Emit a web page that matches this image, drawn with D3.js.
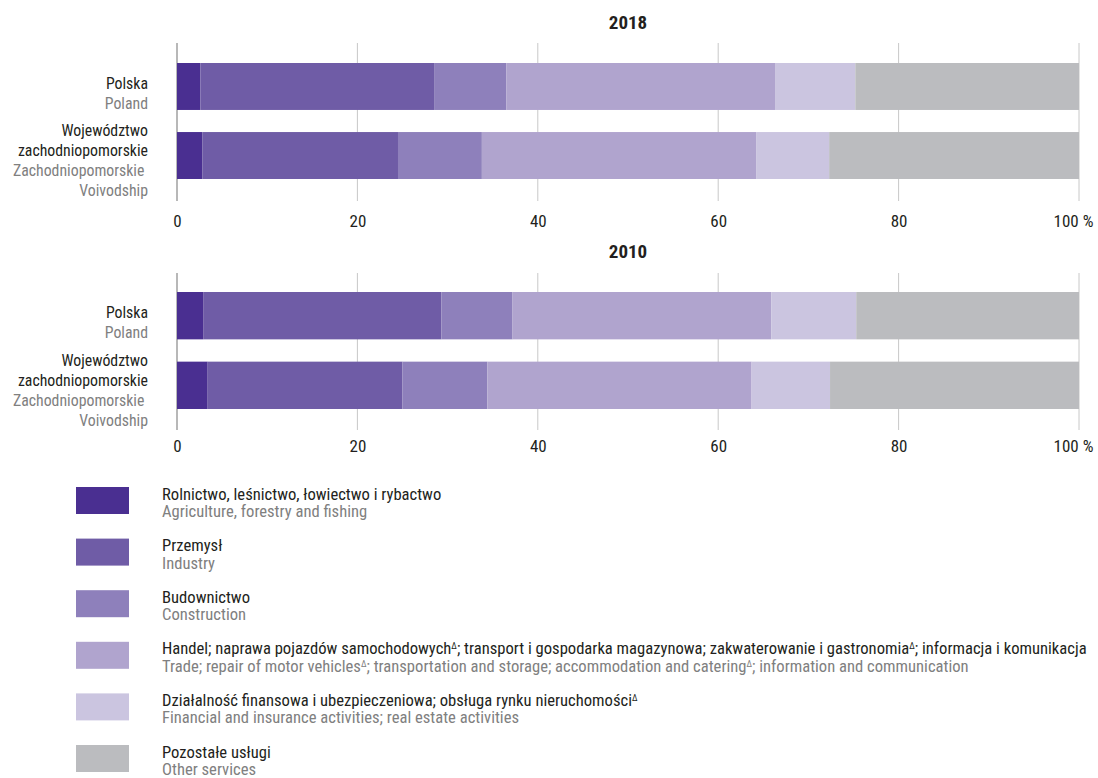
<!DOCTYPE html>
<html><head><meta charset="utf-8">
<script src="https://cdn.jsdelivr.net/npm/d3@7"></script>
<style>
  body{margin:0;background:#fff}
  text{font-family:'Roboto Condensed','Liberation Sans',sans-serif}
</style>
</head><body>
<svg id="s" width="1098" height="778"></svg>
<script>
// ---------- data ----------
const years = ["2018", "2010"];
const regions = ["Polska", "Województwo zachodniopomorskie"];
const regionLabelsPl = [["Polska"], ["Województwo", "zachodniopomorskie"]];
const regionLabelsEn = [["Poland"], ["Zachodniopomorskie ", "Voivodship"]];
const sectorsPl = [
  "Rolnictwo, leśnictwo, łowiectwo i rybactwo",
  "Przemysł",
  "Budownictwo",
  "Handel; naprawa pojazdów samochodowych^; transport i gospodarka magazynowa; zakwaterowanie i gastronomia^; informacja i komunikacja",
  "Działalność finansowa i ubezpieczeniowa; obsługa rynku nieruchomości^",
  "Pozostałe usługi"
];
const sectorsEn = [
  "Agriculture, forestry and fishing",
  "Industry",
  "Construction",
  "Trade; repair of motor vehicles^; transportation and storage; accommodation and catering^; information and communication",
  "Financial and insurance activities; real estate activities",
  "Other services"
];
const colors = ["#4a2f91", "#6f5ca6", "#8e80bb", "#b0a4ce", "#cbc5e0", "#bbbcbf"];
// shares (%) per sector, [Polska, zachodniopomorskie]
const values2018 = [
  [2.6, 2.8],
  [25.9, 21.7],
  [8.0, 9.3],
  [29.8, 30.4],
  [8.9, 8.1],
  [24.8, 27.7]
];
const values2010 = [
  [2.9, 3.4],
  [26.4, 21.6],
  [7.9, 9.4],
  [28.7, 29.3],
  [9.4, 8.7],
  [24.7, 27.6]
];
const tickValues = [0, 20, 40, 60, 80, 100];
const tickLabels = ["0", "20", "40", "60", "80", "100 %"];

// ---------- layout ----------
const svg = d3.select("#s");
const x = d3.scaleLinear().domain([0, 100]).range([177, 1079]);
const panels = [
  {year: years[0], values: values2018, top: 43, bars: [63, 179], bottom: 201, titleY: 29, tickY: 228},
  {year: years[1], values: values2010, top: 273, bars: [292, 409], bottom: 430, titleY: 258, tickY: 453}
];

panels.forEach(p => {
  const g = svg.append("g");
  const y = d3.scaleBand().domain(regions).range(p.bars).paddingInner(0.32).paddingOuter(0);

  // title
  g.append("text").attr("x", (x(0) + x(100)) / 2).attr("y", p.titleY)
    .attr("text-anchor", "middle").style("font-weight", "700").style("font-size", "19px")
    .attr("fill", "#231f20").text(p.year);

  // gridlines
  g.selectAll("line.grid").data(tickValues).join("line")
    .attr("class", "grid")
    .attr("x1", d => x(d)).attr("x2", d => x(d))
    .attr("y1", p.top).attr("y2", p.bottom)
    .attr("stroke", d => d === 0 ? "#a0a0a0" : "#c8c8c8")
    .attr("stroke-width", d => d === 0 ? 1.5 : 1);

  // stacked bars
  const rows = regions.map((r, i) => {
    const o = {region: r};
    p.values.forEach((v, k) => o["s" + k] = v[i]);
    return o;
  });
  const keys = p.values.map((_, k) => "s" + k);
  const stacked = d3.stack().keys(keys)(rows);
  stacked.forEach((layer, k) => {
    g.selectAll(null).data(layer).join("rect")
      .attr("x", d => x(d[0]))
      .attr("width", d => x(Math.min(d[1], 100)) - x(d[0]))
      .attr("y", d => y(d.data.region))
      .attr("height", y.bandwidth())
      .attr("fill", colors[k]);
  });

  // axis labels
  const axis = d3.axisBottom(x).tickValues(tickValues).tickSize(0)
    .tickFormat((d, i) => tickLabels[i]);
  const ag = g.append("g").attr("transform", `translate(0,${p.tickY - 16})`).call(axis);
  ag.select(".domain").remove();
  ag.selectAll("text").style("font-size", "17px").attr("fill", "#231f20")
    .attr("font-family", null).attr("dy", "0.71em")
    .attr("dx", (d) => d === 100 ? -6 : 0);

  // row labels
  regions.forEach((r, i) => {
    const c = y(r) + y.bandwidth() / 2;
    const pl = regionLabelsPl[i], en = regionLabelsEn[i];
    const lh = 20;
    const start = i === 0 ? c + 2.5 : c - 19.5;
    pl.forEach((t, j) => {
      g.append("text").attr("x", 148).attr("y", start + j * lh).attr("text-anchor", "end")
        .style("font-size", "15.8px").attr("fill", "#231f20").text(t);
    });
    en.forEach((t, j) => {
      g.append("text").attr("x", 148).attr("y", start + (pl.length + j) * lh).attr("text-anchor", "end")
        .style("font-size", "15.8px").attr("fill", "#808080").style("white-space", "pre").text(t);
    });
  });
});

// ---------- legend ----------
const legend = svg.append("g");
function addRich(sel, str) {
  const parts = str.split("^");
  parts.forEach((part, i) => {
    sel.append("tspan").text(part);
    if (i < parts.length - 1) {
      sel.append("tspan").style("baseline-shift", "super").style("font-size", "9px").text("Δ");
    }
  });
}
const ly = d3.scaleLinear().domain([0, 5]).range([487, 745]);
sectorsPl.forEach((s, i) => {
  legend.append("rect").attr("x", 76).attr("y", ly(i)).attr("width", 53).attr("height", 27)
    .attr("fill", colors[i]);
  const t1 = legend.append("text").attr("x", 162).attr("y", ly(i) + 12.5)
    .style("font-size", "16.6px").attr("fill", "#231f20");
  addRich(t1, s);
  const t2 = legend.append("text").attr("x", 162).attr("y", ly(i) + 30)
    .style("font-size", "16.6px").attr("fill", "#808080");
  addRich(t2, sectorsEn[i]);
});
</script></body></html>
